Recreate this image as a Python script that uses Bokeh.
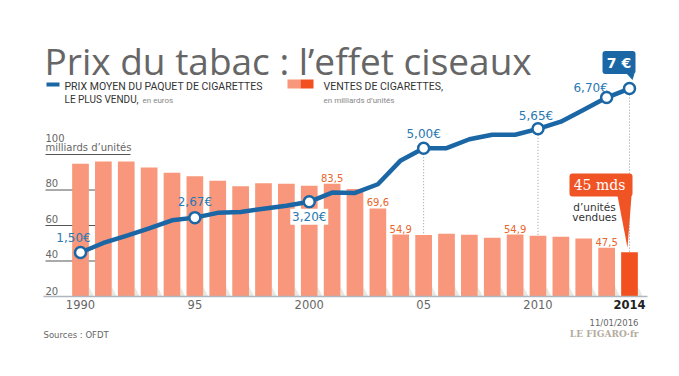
from bokeh.plotting import figure
from bokeh.models import Range1d
from bokeh.core.properties import value
from bokeh.embed import file_html
from bokeh.resources import INLINE

# ---------------- data ----------------
years = list(range(1990, 2015))
sales = [94.8, 96.1, 96.1, 92.7, 89.7, 87.8, 85.2, 82.1, 83.8, 83.5, 82.4, 83.5, 80.5,
         69.6, 54.9, 54.6, 55.3, 54.8, 53.1, 54.9, 54.2, 53.6, 52.7, 47.5, 45.0]
price = [1.50, 1.82, 2.06, 2.31, 2.58, 2.67, 2.83, 2.86, 2.97, 3.07, 3.20, 3.51, 3.50,
         3.79, 4.59, 5.00, 5.00, 5.30, 5.45, 5.45, 5.65, 5.89, 6.29, 6.70, 7.00]
marked_years = [1990, 1995, 2000, 2005, 2010, 2013, 2014]
price_label_years = [1990, 1995, 2000, 2005, 2010, 2013]
price_labels = ["1,50€", "2,67€", "3,20€", "5,00€", "5,65€", "6,70€"]
sales_label_years = [2001, 2003, 2004, 2009, 2013]
sales_labels = ["83,5", "69,6", "54,9", "54,9", "47,5"]
tick_years = [1990, 1995, 2000, 2005, 2010, 2014]
tick_labels = ["1990", "95", "2000", "05", "2010", "2014"]
y_ticks = [40, 60, 80, 100]
y_tick_labels = ["40", "60", "80", "100"]
base_value = 20
base_label = "20"
highlight_year = 2014
dotted_years = [2005, 2010, 2014]

# ---------------- layout ----------------
W, H = 663, 360
OFFSET = 0              # where the figure sits on the page
X_ORIGIN_PX = 80.0      # figure px of 1990
PX_PER_YEAR = 22.875
Y_BASE_PX = 296.0       # figure px (from top) of value 20
PX_PER_UNIT = 1.775
P_BASE_PX = 252.0       # figure px (from top) of 1.50 €
PX_PER_EURO = 29.8

x0 = 1990 - X_ORIGIN_PX / PX_PER_YEAR
x1 = 1990 + (W - X_ORIGIN_PX) / PX_PER_YEAR
y1 = 20 + Y_BASE_PX / PX_PER_UNIT
y0 = 20 - (H - Y_BASE_PX) / PX_PER_UNIT
p1 = 1.5 + P_BASE_PX / PX_PER_EURO
p0 = 1.5 - (H - P_BASE_PX) / PX_PER_EURO


def PX(page_x):
    return 1990 + (page_x - OFFSET - X_ORIGIN_PX) / PX_PER_YEAR


def PY(page_y):
    return 20 + (Y_BASE_PX - (page_y - OFFSET)) / PX_PER_UNIT


def dx(px):
    return px / PX_PER_YEAR


def dv(px):
    return px / PX_PER_UNIT


def dp(px):
    return px / PX_PER_EURO


def v_of_p(pr):
    return 20 + (Y_BASE_PX - (P_BASE_PX - (pr - 1.5) * PX_PER_EURO)) / PX_PER_UNIT


SALMON = "#F8977B"
RED = "#F2501F"
ORANGE_TXT = "#E8652C"
BLUE = "#1B67A5"
BLUE_TXT = "#2A78B2"
GREY = "#666666"
BAR_W = 0.73

p = figure(width=W, height=H, x_range=Range1d(x0, x1), y_range=Range1d(y0, y1),
           output_backend="svg", toolbar_location=None,
           x_axis_location=None, y_axis_location=None, min_border=0,
           outline_line_color=None, background_fill_color="white",
           border_fill_color="white")
p.extra_y_ranges = {"price": Range1d(p0, p1)}
p.grid.visible = False

SANS = value("DejaVu Sans")

# ---------------- title & legend ----------------
p.text(x=[PX(44)], y=[PY(60)], text=["Prix du tabac : l’effet ciseaux"],
       text_font=value("Open Sans"), text_font_size="37px", text_color="#666666",
       text_baseline="alphabetic", text_align="left")

p.segment(x0=[PX(46)], x1=[PX(59)], y0=[PY(84)], y1=[PY(84)], line_color=BLUE, line_width=4)
p.text(x=[PX(64)], y=[PY(86)], text=["PRIX MOYEN DU PAQUET DE CIGARETTES"],
       text_font=value("Roboto"), text_font_size="10.5px", text_color="#333333",
       text_baseline="middle")
p.text(x=[PX(64)], y=[PY(99)], text=["LE PLUS VENDU,"],
       text_font=value("Roboto"), text_font_size="10px", text_color="#333333",
       text_baseline="middle")
p.text(x=[PX(142)], y=[PY(99.5)], text=["en euros"],
       text_font=value("Roboto"), text_font_size="8px", text_color="#888888",
       text_baseline="middle")

p.quad(left=[PX(287)], right=[PX(300)], top=[PY(79)], bottom=[PY(88)], fill_color=SALMON, line_color=None)
p.quad(left=[PX(300)], right=[PX(313)], top=[PY(79)], bottom=[PY(88)], fill_color=RED, line_color=None)
p.text(x=[PX(323)], y=[PY(86)], text=["VENTES DE CIGARETTES,"],
       text_font=value("Roboto"), text_font_size="10.5px", text_color="#333333",
       text_baseline="middle")
p.text(x=[PX(323)], y=[PY(99.5)], text=["en milliards d’unités"],
       text_font=value("Roboto"), text_font_size="8px", text_color="#888888",
       text_baseline="middle")

# ---------------- value axis (short grid lines) ----------------
grid_right = [PX(110) if t != 100 else PX(130) for t in y_ticks]
p.segment(x0=[PX(45)] * len(y_ticks), x1=grid_right, y0=y_ticks, y1=y_ticks,
          line_color="#555555", line_width=1)
label_y = [t + dv(3) if t != 100 else t + dv(13) for t in y_ticks]
p.text(x=[PX(45)] * len(y_ticks), y=label_y, text=y_tick_labels,
       text_font=SANS, text_font_size="10px", text_color=GREY,
       text_baseline="bottom", text_align="left")
p.text(x=[PX(45)], y=[100 + dv(2)], text=["milliards d’unités"],
       text_font=SANS, text_font_size="10px", text_color=GREY,
       text_baseline="bottom", text_align="left")

# ---------------- bars ----------------
# soft shadows at the foot of each bar
shadow_xs = [[y + BAR_W / 2, y + BAR_W / 2 + dx(5), y + BAR_W / 2] for y in years]
shadow_ys = [[base_value, base_value, base_value + dv(10)] for _ in years]
p.patches(xs=shadow_xs, ys=shadow_ys, fill_color="#E4E9E3", line_color=None)

bar_colors = [RED if y == highlight_year else SALMON for y in years]
p.vbar(x=years, top=sales, bottom=base_value, width=BAR_W, fill_color=bar_colors, line_color=None)

# base line
p.segment(x0=[PX(43)], x1=[PX(647)], y0=[base_value], y1=[base_value],
          line_color="#AEB7C0", line_width=1.5)
p.text(x=[PX(45)], y=[base_value + dv(2)], text=[base_label],
       text_font=SANS, text_font_size="10px", text_color=GREY,
       text_baseline="bottom", text_align="left")

# x tick labels
tick_colors = ["#222222" if y == highlight_year else GREY for y in tick_years]
tick_styles = ["bold" if y == highlight_year else "normal" for y in tick_years]
p.text(x=tick_years, y=[base_value - dv(8)] * len(tick_years), text=tick_labels,
       text_font=SANS, text_font_size="11.5px", text_color=tick_colors,
       text_font_style=tick_styles, text_align="center", text_baseline="middle")

# sales labels
sales_by_year = dict(zip(years, sales))
price_by_year = dict(zip(years, price))
p.text(x=sales_label_years, y=[sales_by_year[y] + dv(2) for y in sales_label_years],
       text=sales_labels, text_font=SANS, text_font_size="10px", text_color=ORANGE_TXT,
       text_align="center", text_baseline="bottom")

# dotted guides
p.segment(x0=dotted_years, x1=dotted_years,
          y0=[v_of_p(price_by_year[y]) for y in dotted_years],
          y1=[sales_by_year[y] for y in dotted_years],
          line_color="#999999", line_width=1, line_dash="1 2")

# ---------------- price line ----------------
p.line(years, price, y_range_name="price", line_color=BLUE, line_width=4.5,
       line_join="round", line_cap="round")
p.scatter(marked_years, [price_by_year[y] for y in marked_years], y_range_name="price",
          size=11, fill_color="white", line_color=BLUE, line_width=2.5)

# price labels
offsets = {1990: (-7, 15), 1995: (0, 16), 2000: (0, -15), 2005: (0, 14), 2010: (-2, 13), 2013: (-16, 10)}
lx = [y + dx(offsets[y][0]) for y in price_label_years]
ly = [price_by_year[y] + dp(offsets[y][1]) for y in price_label_years]
# white background behind the 3,20€ label
y2000 = price_by_year[2000] + dp(offsets[2000][1])
p.quad(left=[2000 - dx(19)], right=[2000 + dx(19)], top=[y2000 + dp(8)], bottom=[y2000 - dp(8)],
       y_range_name="price", fill_color="white", line_color=None)
p.text(x=lx, y=ly, text=price_labels, y_range_name="price",
       text_font=SANS, text_font_size="12px", text_color=BLUE_TXT,
       text_align="center", text_baseline="middle")

# 7 € call-out
hp = price_by_year[highlight_year]
p.quad(left=[highlight_year + dx(-27)], right=[highlight_year + dx(6)],
       top=[hp + dp(37.5)], bottom=[hp + dp(14.5)], y_range_name="price",
       fill_color=BLUE, line_color=None, border_radius=3)
p.patch(x=[highlight_year + dx(-3), highlight_year + dx(5), highlight_year + dx(3)],
        y=[hp + dp(15), hp + dp(15), hp + dp(8.5)], y_range_name="price",
        fill_color=BLUE, line_color=None)
p.text(x=[highlight_year + dx(-10.5)], y=[hp + dp(26)], text=["7 €"], y_range_name="price",
       text_font=SANS, text_font_size="14px", text_font_style="bold", text_color="white",
       text_align="center", text_baseline="middle")

# 45 mds call-out
hs = sales_by_year[highlight_year]
p.quad(left=[highlight_year + dx(-60)], right=[highlight_year + dx(3)],
       top=[hs + dv(78.6)], bottom=[hs + dv(55.6)],
       fill_color="#F05324", line_color=None, border_radius=3)
p.patch(x=[highlight_year + dx(-12), highlight_year + dx(2), highlight_year + dx(-2)],
        y=[hs + dv(56.5), hs + dv(56.5), hs + dv(4.5)],
        fill_color="#F05324", line_color=None)
p.text(x=[highlight_year + dx(-30)], y=[hs + dv(67)], text=["45 mds"],
       text_font=value("DejaVu Serif"), text_font_size="14px", text_color="white",
       text_align="center", text_baseline="middle")
p.text(x=[highlight_year + dx(-35), highlight_year + dx(-35)], y=[hs + dv(45), hs + dv(35)],
       text=["d’unités", "vendues"], text_font=SANS, text_font_size="10.5px",
       text_color="#333333", text_align="center", text_baseline="middle")

# ---------------- footer ----------------
p.text(x=[PX(43)], y=[PY(334)], text=["Sources : OFDT"], text_font=SANS,
       text_font_size="8.5px", text_color=GREY, text_baseline="middle")
p.text(x=[PX(638)], y=[PY(322)], text=["11/01/2016"], text_font=SANS,
       text_font_size="8.5px", text_color=GREY, text_baseline="middle", text_align="right")
p.text(x=[PX(638)], y=[PY(333)], text=["LE FIGARO·fr"], text_font=value("DejaVu Serif"),
       text_font_size="9px", text_font_style="bold", text_color="#B5AC9E",
       text_baseline="middle", text_align="right")

open("out.html", "w").write(file_html(p, INLINE))
